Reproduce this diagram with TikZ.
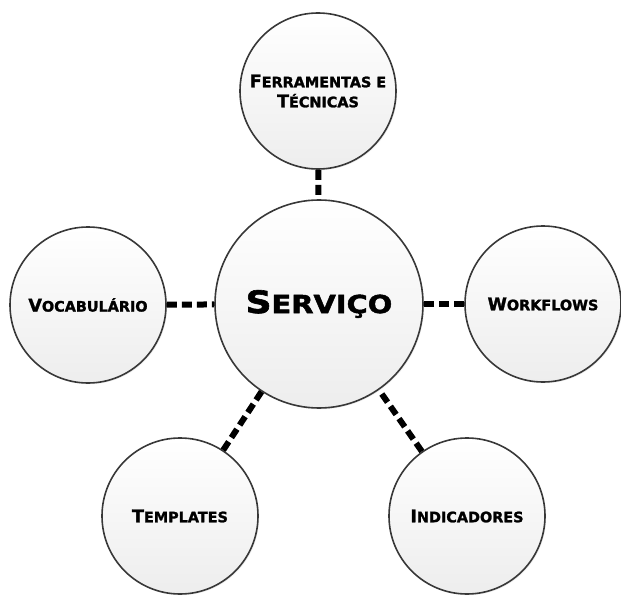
\documentclass[tikz,border=0pt]{standalone}
\usepackage{fontspec}
\usepackage{relsize}
\usepackage{tikz}
\usetikzlibrary{shadows}

\newfontfamily\labfont{DejaVu Sans}[FakeBold=1.6]
\newfontfamily\servfont{DejaVu Sans}[FakeStretch=1.16, FakeBold=2]
\newcommand{\capsc}[2]{#1\textscale{0.8}{#2}}

\tikzset{
  bolha/.style={circle, draw=black!78, line width=1.6pt,
    top color=white, bottom color=black!7,
    minimum size=156pt, inner sep=0pt, align=center,
    font=\labfont\bfseries\fontsize{17.5}{20}\selectfont,
    drop shadow={shadow xshift=1.2pt, shadow yshift=-1.2pt, opacity=0.15}},
  ligacao/.style={line width=6pt, dash pattern=on 10pt off 5pt, black}
}

\begin{document}
\begin{tikzpicture}[x=1pt,y=-1pt]
    %initialisation
    \useasboundingbox (0,0) rectangle (621,596);
    %circles
    \node[bolha, minimum size=208pt,
      font=\servfont\bfseries\fontsize{31}{34}\selectfont]
      (servico) at (319,304) {\capsc{S}{ERVIÇO}};
    \node[bolha] (ferramentas) at (318,91) {\capsc{F}{ERRAMENTAS E}\\\capsc{T}{ÉCNICAS}};
    \node[bolha] (vocabulario) at (88,305) {\capsc{V}{OCABULÁRIO}};
    \node[bolha] (workflows) at (543,304) {\capsc{W}{ORKFLOWS}};
    \node[bolha] (templates) at (180,516) {\capsc{T}{EMPLATES}};
    \node[bolha] (indicadores) at (467,516) {\capsc{I}{NDICADORES}};
    %links
    \draw[ligacao] (ferramentas) -- (servico);
    \draw[ligacao] (vocabulario) -- (servico);
    \draw[ligacao] (workflows) -- (servico);
    \draw[ligacao] (templates) -- (servico);
    \draw[ligacao] (indicadores) -- (servico);
\end{tikzpicture}
\end{document}
